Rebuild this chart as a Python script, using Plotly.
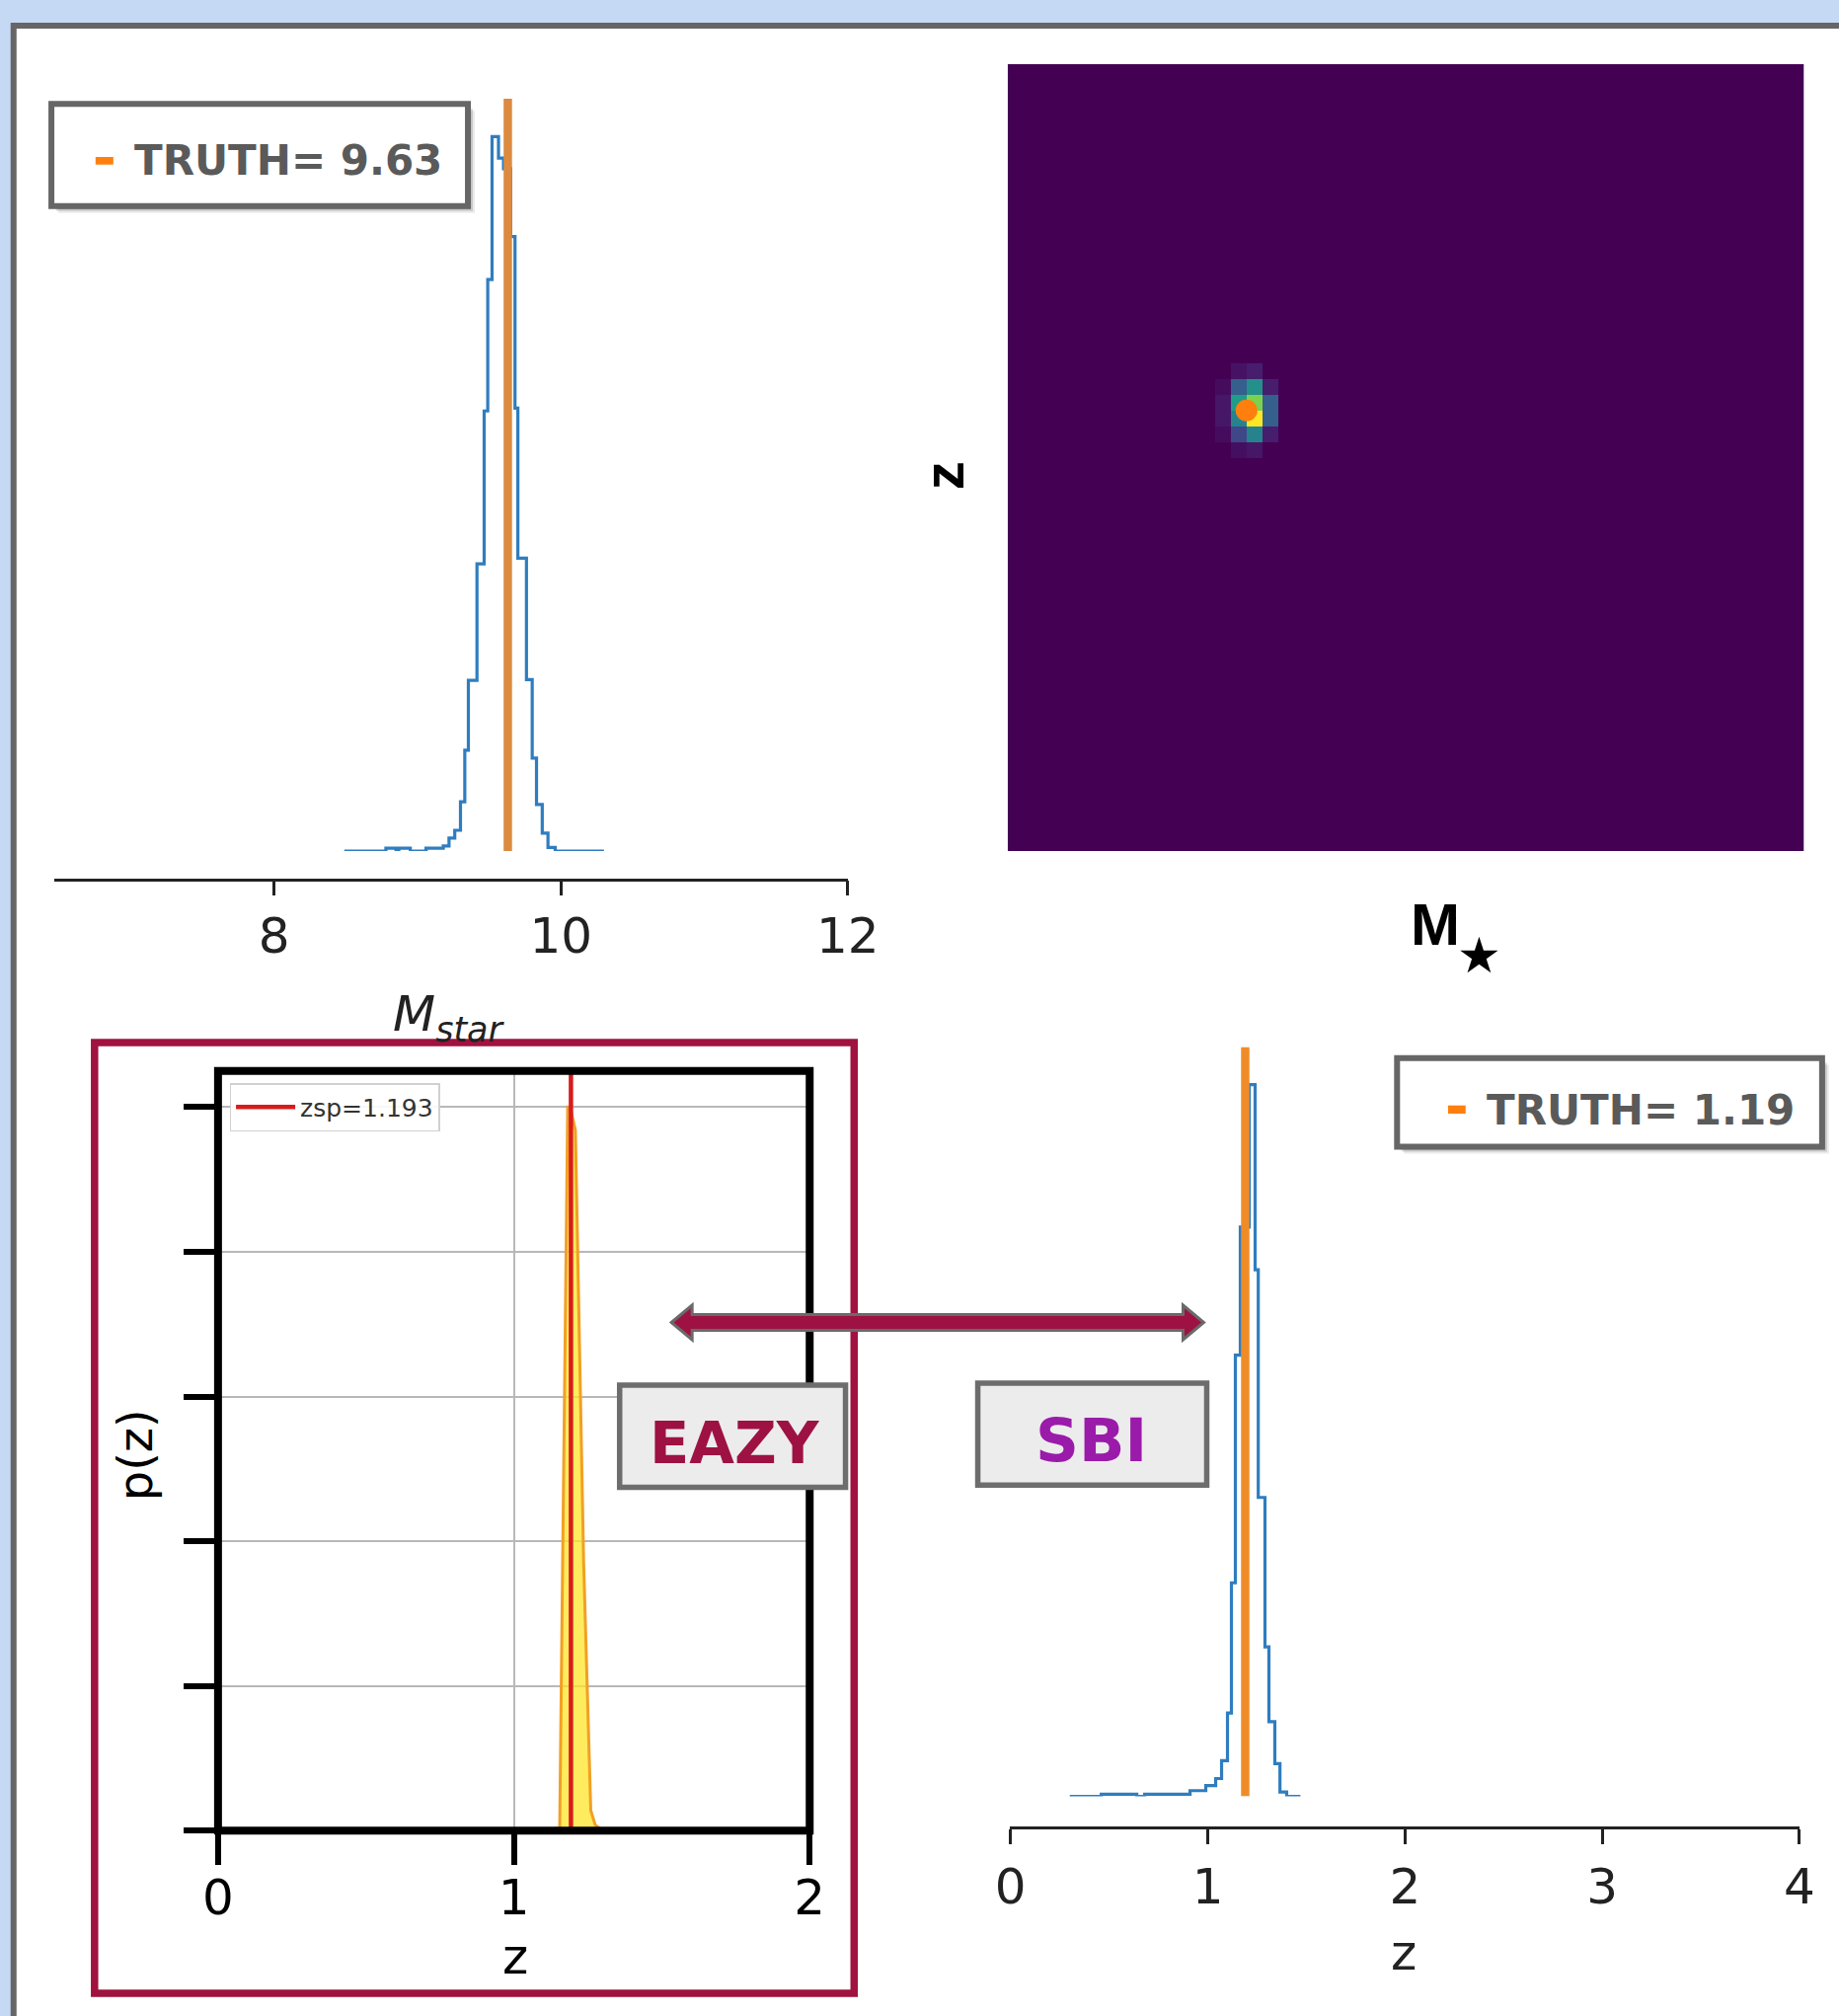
import plotly.graph_objects as go

W, H = 1863, 2042


def px(x):
    # measured horizontal pixel -> paper fraction (with calibration of measured coordinates)
    return (x / 0.9965 - 15.3) / 0.9776 / W


def py(y):
    return 1 - y / H


# ---------------- data ----------------
# stellar-mass posterior histogram (SBI) : bin edges and heights (peak normalised)
mstar_edges = [8.49, 8.78, 8.85, 8.87, 8.95, 9.06, 9.18, 9.22, 9.26, 9.30, 9.33, 9.355,
               9.415, 9.465, 9.49, 9.52, 9.565, 9.60, 9.65, 9.68, 9.70, 9.76, 9.80,
               9.83, 9.87, 9.91, 9.96, 10.30]
mstar_heights = [0, 0.004, 0, 0.004, 0, 0.004, 0.007, 0.018, 0.029, 0.069, 0.141, 0.239,
                 0.402, 0.616, 0.80, 1.0, 0.97, 0.955, 0.86, 0.62, 0.41, 0.24, 0.13,
                 0.065, 0.025, 0.005, 0]
mstar_truth = 9.63

# redshift posterior histogram (SBI)
sbi_edges = [0.30, 0.46, 0.64, 0.68, 0.91, 0.99, 1.04, 1.07, 1.10, 1.12, 1.14, 1.165,
             1.21, 1.24, 1.256, 1.29, 1.31, 1.34, 1.366, 1.40, 1.47]
sbi_heights = [0, 0.003, 0, 0.003, 0.008, 0.015, 0.025, 0.05, 0.117, 0.30, 0.62, 0.80,
               1.0, 0.74, 0.42, 0.21, 0.105, 0.046, 0.006, 0]
z_truth = 1.19

# EAZY p(z)
eazy_z = [1.10, 1.155, 1.182, 1.190, 1.208, 1.236, 1.260, 1.275, 1.30]
eazy_pz = [0, 0.02, 5.0, 5.0, 4.84, 1.85, 0.14, 0.04, 0]
zsp = 1.193

# joint (M*, z) 2D histogram: 50x50 bins, non-empty cells only
hm_x_range = [8.4, 12.5]
hm_y_range = [0.0, 2.125]
hm_nbins = 50
hm_cols = [14, 15, 14, 15, 15, 14, 15, 14, 16, 16, 16, 16, 14, 15, 15, 14, 13, 13, 13, 13]
hm_rows = [28, 28, 27, 27, 29, 29, 26, 26, 28, 27, 29, 26, 30, 30, 25, 25, 28, 27, 29, 26]
hm_vals = [0.55, 0.80, 0.45, 1.0, 0.50, 0.30, 0.45, 0.22, 0.30, 0.30, 0.08, 0.08,
           0.05, 0.08, 0.06, 0.04, 0.06, 0.06, 0.03, 0.03]

# ---------------- build ----------------
def step_xy(edges, heights):
    return list(edges), list(heights) + [heights[-1]]


fig = go.Figure()

mx, my = step_xy(mstar_edges, mstar_heights)
fig.add_trace(go.Scatter(x=mx, y=my, mode="lines", line=dict(color="#2f7dbf", width=3.2, shape="hv"),
                         xaxis="x", yaxis="y", showlegend=False, hoverinfo="skip"))
fig.add_trace(go.Scatter(x=[mstar_truth, mstar_truth], y=[0, 1.053], mode="lines",
                         line=dict(color="#dc8a40", width=8.5), xaxis="x", yaxis="y",
                         showlegend=False))

dx = (hm_x_range[1] - hm_x_range[0]) / hm_nbins
dy = (hm_y_range[1] - hm_y_range[0]) / hm_nbins
hx = [hm_x_range[0] + (i + 0.5) * dx for i in range(hm_nbins)]
hy = [hm_y_range[0] + (j + 0.5) * dy for j in range(hm_nbins)]
zmat = [[0.0] * hm_nbins for _ in range(hm_nbins)]
for c, r, v in zip(hm_cols, hm_rows, hm_vals):
    zmat[r][c] = v
fig.add_trace(go.Heatmap(x=hx, y=hy, z=zmat, colorscale="Viridis", zmin=0, zmax=1,
                         showscale=False, xaxis="x2", yaxis="y2", hoverinfo="skip"))
fig.add_trace(go.Scatter(x=[mstar_truth], y=[z_truth], mode="markers",
                         marker=dict(color="#ff7f0e", size=22), xaxis="x2", yaxis="y2",
                         showlegend=False))

fig.add_trace(go.Scatter(x=eazy_z, y=eazy_pz, mode="lines", fill="tozeroy",
                         fillcolor="rgba(255,228,40,0.75)", line=dict(color="#f2a024", width=3),
                         xaxis="x3", yaxis="y3", showlegend=False))
fig.add_trace(go.Scatter(x=[zsp, zsp], y=[0, 5.25], mode="lines", name="zsp=1.193",
                         line=dict(color="#d81c1c", width=4.5), xaxis="x3", yaxis="y3",
                         showlegend=True))

sx, sy = step_xy(sbi_edges, sbi_heights)
fig.add_trace(go.Scatter(x=sx, y=sy, mode="lines", line=dict(color="#2f7dbf", width=3.2, shape="hv"),
                         xaxis="x4", yaxis="y4", showlegend=False, hoverinfo="skip"))
fig.add_trace(go.Scatter(x=[z_truth, z_truth], y=[0, 1.053], mode="lines",
                         line=dict(color="#f08c28", width=8.5), xaxis="x4", yaxis="y4",
                         showlegend=False))

tick_font = dict(family="DejaVu Sans", size=50, color="#222222")
free_axis = dict(anchor="free", showline=True, linecolor="#222222", linewidth=2.5,
                 ticks="outside", ticklen=15, tickwidth=2.5, tickcolor="#222222",
                 tickfont=tick_font, showgrid=False, zeroline=False)

fig.update_layout(
    width=W, height=H, autosize=False,
    margin=dict(l=0, r=0, t=0, b=0, pad=0),
    paper_bgcolor="#c5d9f5", plot_bgcolor="rgba(0,0,0,0)",
    xaxis=dict(domain=[px(54.5), px(858)], range=[6.47, 12.003], position=py(890.5),
               tickvals=[8, 10, 12], ticklabelstandoff=-2, **free_axis),
    yaxis=dict(domain=[py(862), py(100)], range=[0, 1.053], visible=False, anchor="x"),
    xaxis2=dict(domain=[px(1019.4), px(1825.5)], range=hm_x_range, visible=False, anchor="y2"),
    yaxis2=dict(domain=[py(862), py(65)], range=hm_y_range, visible=False, anchor="x2"),
    xaxis3=dict(domain=[px(220), px(819)], range=[0, 2], anchor="y3", tickvals=[0, 1, 2],
                ticks="outside", ticklen=34, tickwidth=6, tickcolor="black",
                tickfont=dict(family="DejaVu Sans", size=50, color="black"),
                showgrid=True, gridcolor="#b8b8b8", gridwidth=1.5, zeroline=False,
                showline=False, ticklabelstandoff=-10),
    yaxis3=dict(domain=[py(1854.3), py(1084.7)], range=[0, 5.25], anchor="x3",
                tickvals=[0, 1, 2, 3, 4, 5], showticklabels=False,
                ticks="outside", ticklen=34, tickwidth=6, tickcolor="black",
                showgrid=True, gridcolor="#b8b8b8", gridwidth=1.5, zeroline=False,
                showline=False),
    xaxis4=dict(domain=[px(1022), px(1821.4)], range=[-0.002, 4.002], position=py(1851.2),
                tickvals=[0, 1, 2, 3, 4], ticklabelstandoff=0, **free_axis),
    yaxis4=dict(domain=[py(1819.5), py(1060.5)], range=[0, 1.053], visible=False, anchor="x4"),
    legend=dict(x=px(231.7), y=py(1097), xanchor="left", yanchor="top",
                bgcolor="rgba(255,255,255,0.9)", bordercolor="#d0d0d0", borderwidth=1.5,
                font=dict(family="DejaVu Sans", size=25, color="#333333"), itemwidth=60),
)

shapes = []
# outer white panel
shapes.append(dict(type="rect", xref="paper", yref="paper", x0=px(13), x1=1.05, y0=-0.05, y1=py(26),
                   fillcolor="white", line=dict(color="#666666", width=6), layer="below"))
# crimson EAZY frame
shapes.append(dict(type="rect", xref="paper", yref="paper", x0=px(95), x1=px(864), y0=py(2019),
                   y1=py(1056), fillcolor="rgba(0,0,0,0)", line=dict(color="#a0123f", width=7.5),
                   layer="above"))
# EAZY axes frame
shapes.append(dict(type="rect", xref="x3 domain", yref="y3 domain", x0=0, x1=1, y0=0, y1=1,
                   line=dict(color="black", width=8), layer="above"))


def poly(points):
    return "M " + " L ".join(f"{px(x):.6f},{py(y):.6f}" for x, y in points) + " Z"


# double arrow
arrow_pts = [(679, 1339.5), (700, 1322), (700, 1331.5), (1197, 1331.5), (1197, 1322),
             (1218, 1339.5), (1197, 1357), (1197, 1347.5), (700, 1347.5), (700, 1357)]
shapes.append(dict(type="path", xref="paper", yref="paper", path=poly(arrow_pts),
                   fillcolor="#9e1243", line=dict(color="#6a6a6a", width=3), layer="above"))


def box(x0, y0, x1, y1, fill, border, bw, shadow=False):
    out = []
    if shadow:
        for off, a in [(7, 0.08), (5, 0.14), (3, 0.2)]:
            out.append(dict(type="rect", xref="paper", yref="paper", x0=px(x0 + off), x1=px(x1 + off),
                            y0=py(y1 + off), y1=py(y0 + off), fillcolor=f"rgba(0,0,0,{a})",
                            line=dict(width=0), layer="above"))
    out.append(dict(type="rect", xref="paper", yref="paper", x0=px(x0), x1=px(x1), y0=py(y1),
                    y1=py(y0), fillcolor=fill, line=dict(color=border, width=bw), layer="above"))
    return out


shapes += box(51.3, 105.3, 473, 208.7, "white", "#666666", 6, shadow=True)
shapes.append(dict(type="rect", xref="paper", yref="paper", x0=px(96), x1=px(114), y0=py(166.7),
                   y1=py(159), fillcolor="#ff7f0e", line=dict(width=0), layer="above"))
shapes += box(1413.7, 1071.7, 1844, 1161.4, "white", "#666666", 6, shadow=True)
shapes.append(dict(type="rect", xref="paper", yref="paper", x0=px(1465.3), x1=px(1483.1),
                   y0=py(1128), y1=py(1119.7), fillcolor="#ff7f0e", line=dict(width=0), layer="above"))
shapes += box(626.6, 1403.1, 855.3, 1506.5, "#ececec", "#6d6d6d", 5.5)
shapes += box(989.2, 1401, 1221, 1504.2, "#ececec", "#6d6d6d", 5.5)
fig.update_layout(shapes=shapes)


def ann(text, x, y, size, color="#222222", family="DejaVu Sans", xanchor="center",
        yanchor="middle", angle=0):
    return dict(text=text, x=px(x), y=py(y), xref="paper", yref="paper", showarrow=False,
                xanchor=xanchor, yanchor=yanchor, textangle=angle,
                font=dict(family=family, size=size, color=color))


annotations = [
    ann("<i>M</i><sub><i>star</i></sub>", 454, 1030, 50),
    ann("p(z)", 136.5, 1474, 48, color="black", angle=-90),
    ann("z", 521, 1982, 50, color="black"),
    ann("z", 1420, 1978, 50),
    ann("<b>z</b>", 954, 482, 58, color="black", family="Liberation Sans", angle=-90),
    ann("<b>M</b>", 1452, 936, 60, color="black", family="Liberation Sans"),
    ann("★", 1497, 968, 50, color="black"),
    ann("<b>TRUTH= 9.63</b>", 133, 163, 42, color="#5a5a5a", xanchor="left"),
    ann("<b>TRUTH= 1.19</b>", 1502.7, 1124, 42, color="#5a5a5a", xanchor="left"),
    ann("<b>EAZY</b>", 743, 1461, 59, color="#9e1243"),
    ann("<b>SBI</b>", 1104, 1458, 61, color="#9a1ba9"),
]
fig.update_layout(annotations=annotations)

fig.write_html("out.html")
